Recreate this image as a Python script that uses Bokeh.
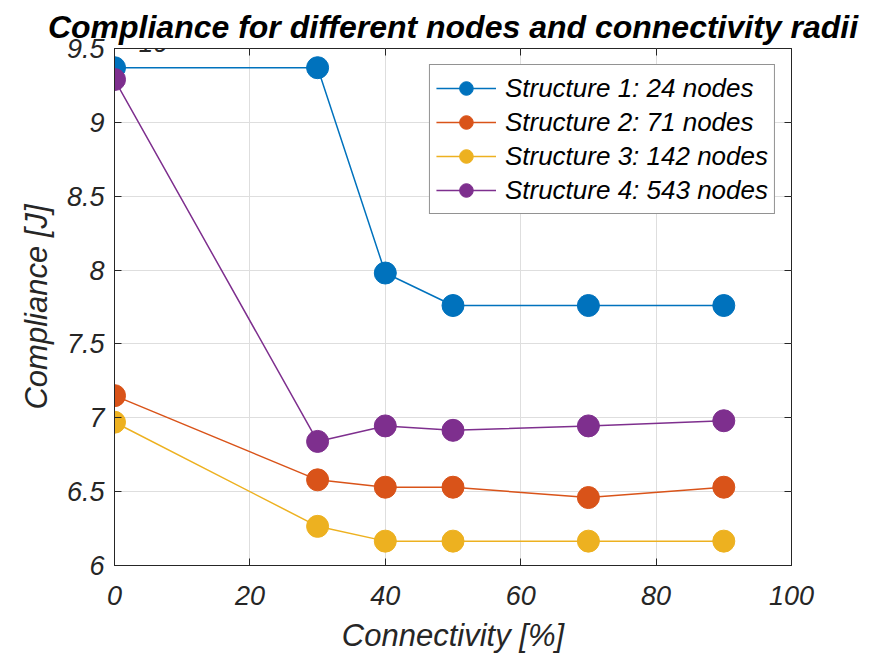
from bokeh.plotting import figure
from bokeh.models import Range1d, LinearAxis, FixedTicker, Label, Legend
from bokeh.embed import file_html
from bokeh.resources import INLINE

# Data (Compliance in units of 1e5 J)
connectivity = [0, 30, 40, 50, 70, 90]
s1 = [9.37, 9.37, 7.98, 7.76, 7.76, 7.76]
s2 = [7.15, 6.58, 6.53, 6.53, 6.46, 6.53]
s3 = [6.97, 6.265, 6.165, 6.165, 6.165, 6.165]
s4 = [9.29, 6.84, 6.945, 6.915, 6.945, 6.98]
series_labels = ["Structure 1: 24 nodes", "Structure 2: 71 nodes",
                 "Structure 3: 142 nodes", "Structure 4: 543 nodes"]
colors = ["#0072BD", "#D95319", "#EDB120", "#7E2F8E"]
x_ticks = [0, 20, 40, 60, 80, 100]
y_ticks = [6, 6.5, 7, 7.5, 8, 8.5, 9, 9.5]
y_tick_labels = ["6", "6.5", "7", "7.5", "8", "8.5", "9", "9.5"]

FONT = "Liberation Sans"
DARK = "#262626"

p = figure(width=875, height=656, output_backend="svg", toolbar_location=None,
           x_range=Range1d(0, 100), y_range=Range1d(6, 9.5),
           min_border_left=114, min_border_right=84, min_border_top=48,
           min_border_bottom=91)

p.title.text = "Compliance for different nodes and connectivity radii"
p.title.text_font = FONT
p.title.text_font_style = "bold italic"
p.title.text_font_size = "32px"
p.title.align = "center"
p.title.text_color = "black"
p.title.standoff = 7

p.outline_line_color = DARK
p.outline_line_width = 1
p.background_fill_color = "white"
p.border_fill_color = "white"

for ax in [p.xaxis[0], p.yaxis[0]]:
    ax.axis_line_color = DARK
    ax.major_tick_line_color = DARK
    ax.major_tick_in = 7
    ax.major_tick_out = 0
    ax.minor_tick_line_color = None
    ax.major_label_text_font = FONT
    ax.major_label_text_font_style = "italic"
    ax.major_label_text_font_size = "27px"
    ax.major_label_text_color = DARK
    ax.axis_label_text_font = FONT
    ax.axis_label_text_font_style = "italic"
    ax.axis_label_text_font_size = "31px"
    ax.axis_label_text_color = DARK

p.xaxis[0].ticker = FixedTicker(ticks=x_ticks)
p.yaxis[0].ticker = FixedTicker(ticks=y_ticks)
p.yaxis[0].major_label_overrides = {t: l for t, l in zip(y_ticks, y_tick_labels)}
p.xaxis[0].axis_label = "Connectivity [%]"
p.yaxis[0].axis_label = "Compliance [J]"
p.xaxis[0].major_label_standoff = 20
p.yaxis[0].major_label_standoff = 10
p.xaxis[0].axis_label_standoff = 10
p.yaxis[0].axis_label_standoff = 10

# mirrored ticks on top and right (no labels)
for loc in ["right", "above"]:
    tk = y_ticks if loc == "right" else x_ticks
    ax2 = LinearAxis(ticker=FixedTicker(ticks=tk))
    ax2.axis_line_color = None
    ax2.major_tick_line_color = DARK
    ax2.major_tick_in = 7
    ax2.major_tick_out = 0
    ax2.minor_tick_line_color = None
    ax2.major_label_overrides = {t: "" for t in tk}
    ax2.major_label_text_color = None
    ax2.major_label_standoff = 0
    p.add_layout(ax2, loc)

p.xgrid.ticker = FixedTicker(ticks=x_ticks)
p.ygrid.ticker = FixedTicker(ticks=y_ticks)
p.grid.grid_line_color = "#DEDEDE"
p.grid.grid_line_width = 1

# exponent multiplier (x10^5), screen units relative to the frame
mult = Label(x=9, y=523, x_units="screen", y_units="screen", text="\u00d710",
             text_font=FONT, text_font_style="italic", text_font_size="26px",
             text_color=DARK, text_baseline="alphabetic")
sup = Label(x=66, y=540, x_units="screen", y_units="screen", text="5",
            text_font=FONT, text_font_style="italic", text_font_size="19px",
            text_color=DARK, text_baseline="alphabetic")
p.add_layout(mult)
p.add_layout(sup)

items = []
for ys, lab, col in zip([s1, s2, s3, s4], series_labels, colors):
    r1 = p.line(connectivity, ys, line_color=col, line_width=1.5)
    r2 = p.scatter(connectivity, ys, size=22, fill_color=col, line_color=col, marker="circle")
    items.append((lab, [r1, r2]))

legend = Legend(items=items, location="top_right")
legend.margin = 16
legend.padding = 6
legend.spacing = 0
legend.glyph_width = 60
legend.glyph_height = 34
legend.label_height = 34
legend.label_standoff = 9
legend.label_text_font = FONT
legend.label_text_font_style = "italic"
legend.label_text_font_size = "26px"
legend.label_text_color = "black"
legend.border_line_color = DARK
legend.border_line_width = 1
legend.background_fill_color = "white"
legend.background_fill_alpha = 1
p.add_layout(legend)

open("out.html", "w").write(file_html(p, INLINE))
